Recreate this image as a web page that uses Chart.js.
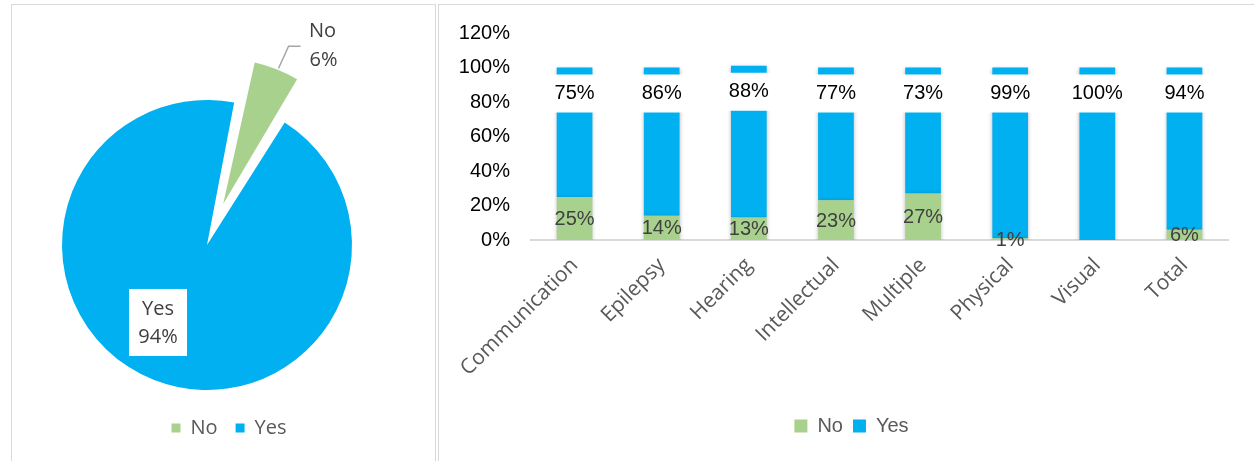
<!DOCTYPE html>
<html>
<head>
<meta charset="utf-8">
<script src="https://cdn.jsdelivr.net/npm/chart.js@4.4.0/dist/chart.umd.min.js"></script>
<style>
  html, body { margin: 0; padding: 0; background: #fff; width: 1254px; height: 461px; overflow: hidden; }
  .panel { position: absolute; border: 1px solid #d9d9d9; box-sizing: border-box; }
  #pieFrame { left: 11px; top: 4px; width: 425px; height: 480px; }
  #barFrame { left: 438px; top: 4px; width: 840px; height: 480px; }
  canvas { position: absolute; }
  #pie { left: 12px; top: 5px; }
  #bar { left: 441px; top: 0px; }
</style>
</head>
<body>
<div class="panel" id="pieFrame"></div>
<div class="panel" id="barFrame"></div>
<canvas id="pie" width="423" height="456"></canvas>
<canvas id="bar" width="813" height="461"></canvas>

<script>
// ---- data ----
const pieLabels = ['No', 'Yes'];
const pieValues = [6, 94];

const categories = ['Communication', 'Epilepsy', 'Hearing', 'Intellectual', 'Multiple', 'Physical', 'Visual', 'Total'];
const noValues  = [25, 14, 13, 23, 27, 1, 0, 6];
const yesValues = [75, 86, 88, 77, 73, 99, 100, 94];
const yTicks = [0, 20, 40, 60, 80, 100, 120];

// ---- styling ----
const GREEN = '#A9D18E';
const BLUE = '#00B0F0';
const EXPLODE = 44;          // how far the "No" wedge is pulled out, px
Chart.defaults.font.family = '"Liberation Sans", Arial, sans-serif';

// Nudge a chart's legend sideways without changing the plot area.
const legendShift = {
  id: 'legendShift',
  afterLayout(chart, args, opts) {
    const dx = opts.dx || 0;
    if (chart.legend && dx) { chart.legend.left += dx; chart.legend.right += dx; }
  }
};

// Chart.js grows an offset arc's radius a little; keep the exploded wedge
// the same size as the rest of the pie.
const explodeFix = {
  id: 'explodeFix',
  afterDatasetUpdate(chart, args) {
    args.meta.data.forEach(arc => {
      const shift = (arc.options.offset || 0) / 4;
      if (!shift) return;
      const fix = 1 - Math.sin(Math.min(Math.PI, arc.circumference));
      arc.outerRadius -= shift * fix;
    });
  }
};

// Category + percentage labels on the pie.
const pieTags = {
  id: 'pieTags',
  afterDatasetsDraw(chart) {
    const ctx = chart.ctx;
    const meta = chart.getDatasetMeta(0);
    ctx.save();
    ctx.font = '20px "Open Sans"';
    ctx.textAlign = 'center';
    ctx.textBaseline = 'middle';
    meta.data.forEach((arc, i) => {
      const mid = (arc.startAngle + arc.endAngle) / 2;
      const shift = (arc.options.offset || 0) / 4;
      const r = arc.outerRadius + shift * (1 - Math.sin(Math.min(Math.PI, arc.circumference)));
      const name = pieLabels[i];
      const pct = pieValues[i] + '%';
      if (shift) {
        // callout outside the exploded wedge
        const sx = arc.x + Math.cos(mid) * (shift + r) + 2;
        const sy = arc.y + Math.sin(mid) * (shift + r) - 1;
        const ex = sx + 10, ey = sy - 22;
        ctx.strokeStyle = '#a6a6a6';
        ctx.lineWidth = 1.5;
        ctx.beginPath();
        ctx.moveTo(sx, sy); ctx.lineTo(ex, ey); ctx.lineTo(ex + 12, ey);
        ctx.stroke();
        ctx.fillStyle = '#404040';
        ctx.fillText(name, ex + 34, ey - 15);
        ctx.fillText(pct, ex + 35, ey + 14);
      } else {
        // boxed label inside the large slice
        const a = mid + 10.7 * Math.PI / 180;
        const cx = arc.x + Math.cos(a) * r * 0.632;
        const cy = arc.y + Math.sin(a) * r * 0.632;
        ctx.fillStyle = '#fff';
        ctx.fillRect(cx - 29, cy - 33.5, 58, 67);
        ctx.fillStyle = '#404040';
        ctx.fillText(name, cx, cy - 13.5);
        ctx.fillText(pct, cx, cy + 14.5);
      }
    });
    ctx.restore();
  }
};

// Soft shadow around the bar columns.
const barShadow = {
  id: 'barShadow',
  beforeDatasetsDraw(chart) {
    const c = chart.ctx;
    c.save();
    c.shadowColor = 'rgba(0,0,0,0.28)';
    c.shadowBlur = 4;
    c.shadowOffsetX = 0;
    c.shadowOffsetY = 1;
  },
  afterDatasetsDraw(chart) { chart.ctx.restore(); }
};

// Value labels on the stacked bars.
const barTags = {
  id: 'barTags',
  afterDatasetsDraw(chart) {
    const ctx = chart.ctx;
    ctx.save();
    ctx.font = '20px "Liberation Sans"';
    ctx.textAlign = 'center';
    ctx.textBaseline = 'middle';
    chart.data.datasets.forEach((ds, di) => {
      chart.getDatasetMeta(di).data.forEach((bar, i) => {
        const v = ds.data[i];
        if (!v) return;
        const text = v + '%';
        if (di === 1) {
          const cy = bar.y + 26;
          const w = Math.max(bar.width + 4, ctx.measureText(text).width + 8);
          ctx.fillStyle = '#fff';
          ctx.fillRect(bar.x - w / 2, cy - 19, w, 38);
          ctx.fillStyle = '#000';
          ctx.fillText(text, bar.x, cy);
        } else {
          ctx.fillStyle = '#404040';
          ctx.fillText(text, bar.x, (bar.y + bar.base) / 2 + 1);
        }
      });
    });
    ctx.restore();
  }
};

// ---- pie ----
new Chart(document.getElementById('pie'), {
  type: 'pie',
  data: {
    labels: pieLabels,
    datasets: [{
      data: pieValues,
      backgroundColor: [GREEN, BLUE],
      borderWidth: 0,
      offset: [EXPLODE * 4, 0]
    }]
  },
  options: {
    responsive: false,
    animation: false,
    rotation: 10.8,
    radius: 145,
    layout: { padding: { top: 85, bottom: 13, left: 0, right: 33 } },
    plugins: {
      legend: {
        position: 'bottom',
        labels: { boxWidth: 9, boxHeight: 9, padding: 18, color: '#595959', font: { family: '"Open Sans"', size: 20 } }
      },
      tooltip: { enabled: false },
      legendShift: { dx: 22 }
    }
  },
  plugins: [legendShift, explodeFix, pieTags]
});

// ---- stacked bars ----
new Chart(document.getElementById('bar'), {
  type: 'bar',
  data: {
    labels: categories,
    datasets: [
      { label: 'No', data: noValues, backgroundColor: GREEN, barPercentage: 0.41, categoryPercentage: 1 },
      { label: 'Yes', data: yesValues, backgroundColor: BLUE, barPercentage: 0.41, categoryPercentage: 1 }
    ]
  },
  options: {
    responsive: false,
    animation: false,
    layout: { padding: { top: 33, right: 26, bottom: 15, left: 0 } },
    scales: {
      x: {
        stacked: true,
        grid: { display: false, drawTicks: false },
        border: { display: true, color: '#d9d9d9', width: 2 },
        ticks: { autoSkip: false, minRotation: 45, maxRotation: 45, padding: 13, color: '#595959', font: { family: '"Open Sans"', size: 21 } },
        afterFit(s) { s.height = 166; }
      },
      y: {
        stacked: true,
        min: 0,
        max: 120,
        grid: { display: false, drawTicks: false },
        border: { display: false },
        afterBuildTicks(s) { s.ticks = yTicks.map(v => ({ value: v })); },
        ticks: { padding: 21, color: '#000', font: { size: 20 }, callback: v => v + '%' },
        afterFit(s) { s.width = 90; }
      }
    },
    plugins: {
      legend: {
        position: 'bottom',
        labels: { boxWidth: 13, boxHeight: 13, padding: 10, color: '#595959', font: { size: 20 } }
      },
      tooltip: { enabled: false },
      legendShift: { dx: 17 }
    }
  },
  plugins: [legendShift, barShadow, barTags]
});
</script>
</body>
</html>
